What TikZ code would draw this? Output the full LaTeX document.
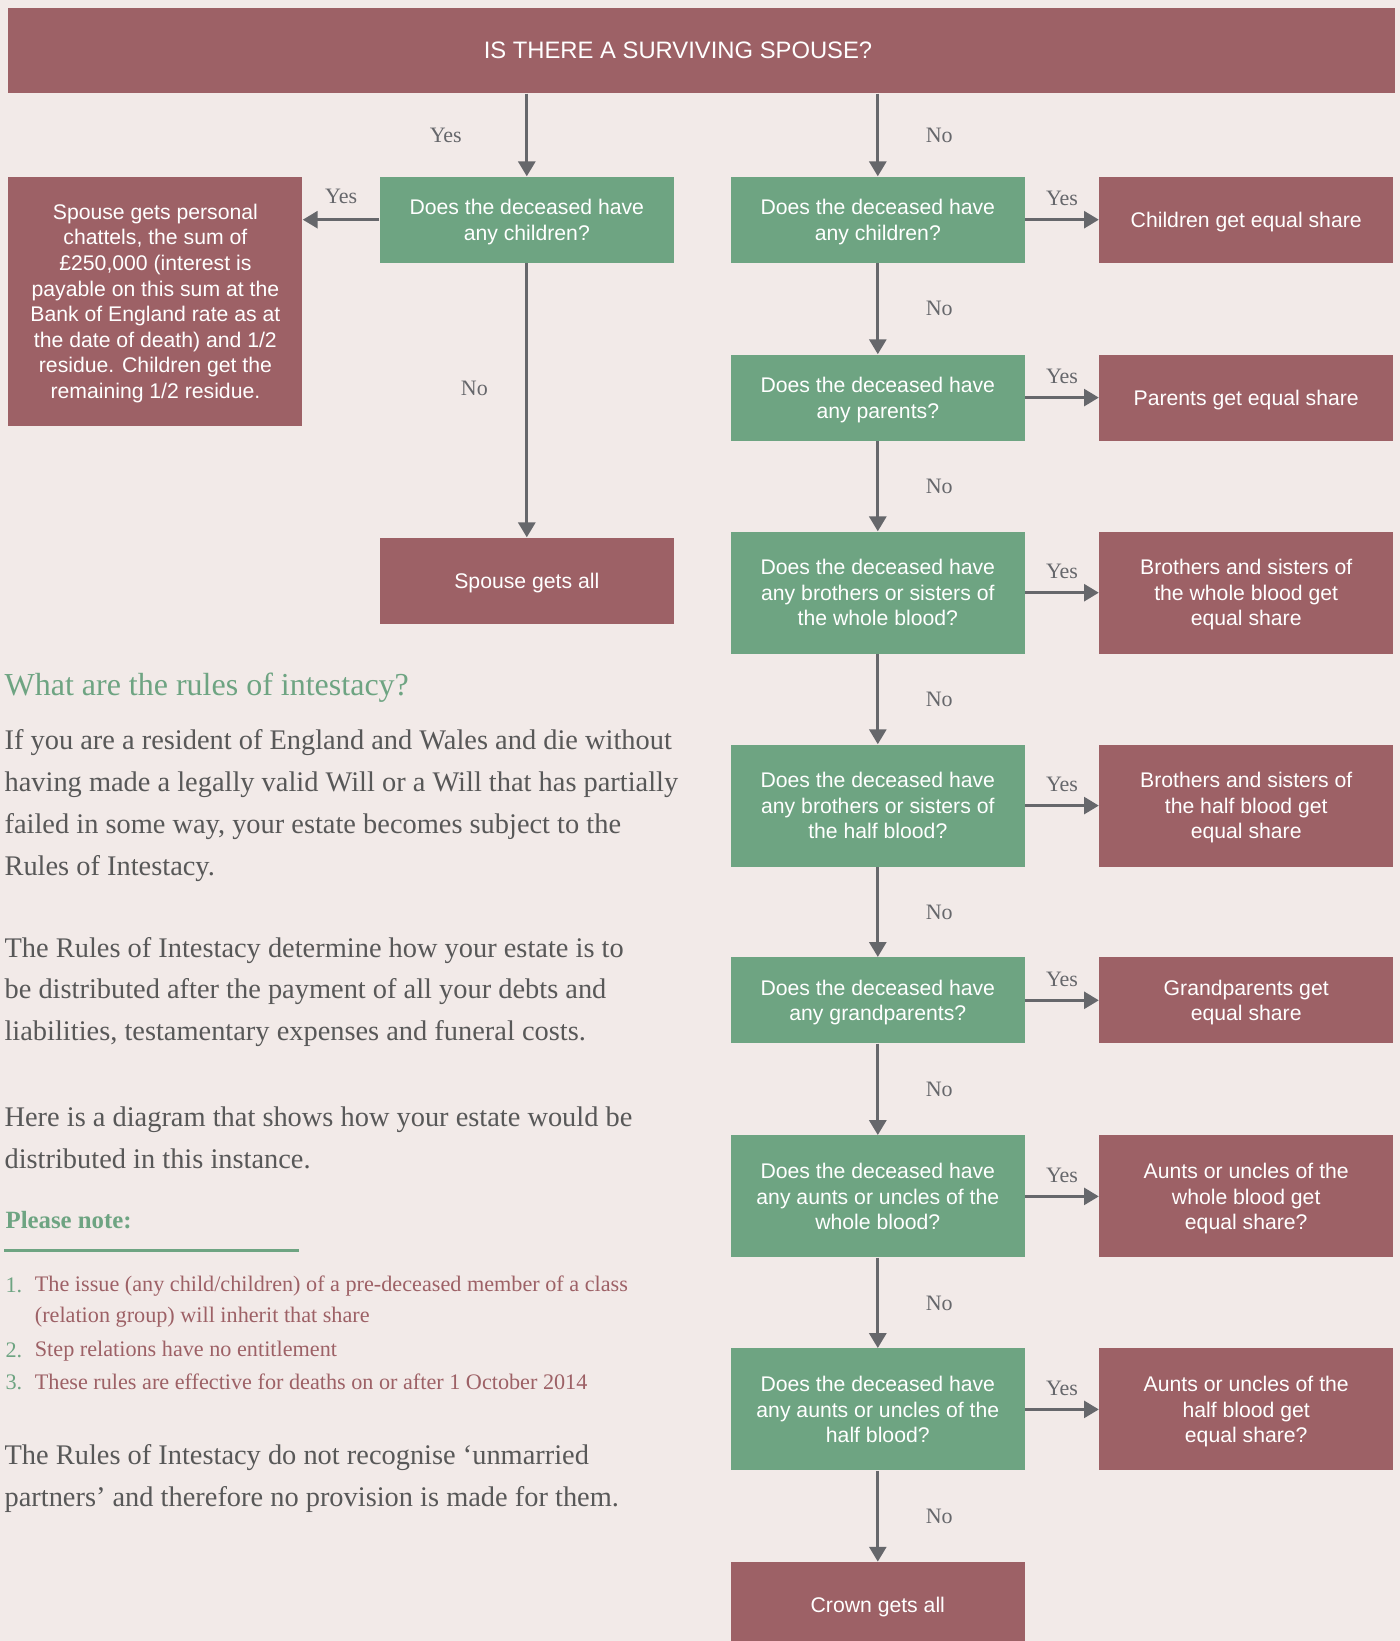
\documentclass[tikz,border=0pt]{standalone}
\usepackage{fontspec}
\setmainfont{Liberation Serif}
\setsansfont{Liberation Sans}
\usetikzlibrary{arrows.meta,positioning}
\definecolor{wine}{HTML}{9D6166}
\definecolor{sage}{HTML}{6EA482}
\definecolor{paper}{HTML}{F2EAE8}
\definecolor{arrowgray}{HTML}{66676B}
\definecolor{bodygray}{HTML}{585858}
\newcommand{\flowfont}{\sffamily\fontsize{10.6}{12.8}\selectfont}
\newcommand{\parafont}{\fontsize{14.2}{20.9}\selectfont}
\newcommand{\itemsfont}{\fontsize{11.1}{15.7}\selectfont}
\newcommand{\ynfont}{\fontsize{11}{13}\selectfont}
\tikzset{
  qbox/.style={fill=sage,text=white,font=\flowfont,align=center,inner sep=0pt,
    minimum width=147pt,minimum height=43pt,text depth=-3.5pt},
  abox/.style={qbox,fill=wine},
  flow/.style={draw=arrowgray,line width=1.35pt,-{Triangle[length=7.4pt,width=8.5pt]}},
  yn/.style={font=\ynfont,text=arrowgray},
  para/.style={font=\parafont,text=bodygray,align=left,anchor=west,inner sep=0pt},
  note/.style={font=\itemsfont,text=wine,align=left,anchor=west,inner sep=0pt},
  num/.style={font=\itemsfont,text=sage,anchor=west,inner sep=0pt}
}
\begin{document}
\begin{tikzpicture}[x=0.5pt,y=-0.5pt]
\fill[paper](0,0)rectangle(1400,1641);
\useasboundingbox(0,0)rectangle(1400,1641);
\clip(0,0)rectangle(1400,1641);
%top question
\node[fill=wine,minimum width=693.2pt,minimum height=42.4pt,inner sep=0pt](top)at(701.5,50.8){};
\node[text=white,font=\sffamily\fontsize{11.9}{14}\selectfont](toptext)at(678,50.2){IS THERE A SURVIVING SPOUSE?};
%spouse branch
\node[qbox](q0)at(526.8,219.7){Does the deceased have\\any children?};
\node[abox,minimum height=124.5pt](a0)at(155.4,301.3){Spouse gets personal\\chattels, the sum of\\£250,000 (interest is\\payable on this sum at the\\Bank of England rate as at\\the date of death) and 1/2\\residue. Children get the\\remaining 1/2 residue.};
\node[abox](spall)at(526.8,580.7){Spouse gets all};
%no spouse branch
\node[qbox](q1)at(877.8,219.7){Does the deceased have\\any children?};
\node[qbox](q2)at(877.8,397.6){Does the deceased have\\any parents?};
\node[qbox,minimum height=61pt](q3)at(877.8,592.7){Does the deceased have\\any brothers or sisters of\\the whole blood?};
\node[qbox,minimum height=61pt](q4)at(877.8,805.6){Does the deceased have\\any brothers or sisters of\\the half blood?};
\node[qbox](q5)at(877.8,1000.3){Does the deceased have\\any grandparents?};
\node[qbox,minimum height=61pt](q6)at(877.8,1196.4){Does the deceased have\\any aunts or uncles of the\\whole blood?};
\node[qbox,minimum height=61pt](q7)at(877.8,1409.4){Does the deceased have\\any aunts or uncles of the\\half blood?};
\node[abox](crown)at(877.8,1605){Crown gets all};
%answers
\node[abox](a1)at(1246.2,219.7){Children get equal share};
\node[abox](a2)at(1246.2,397.6){Parents get equal share};
\node[abox,minimum height=61pt](a3)at(1246.2,592.7){Brothers and sisters of\\the whole blood get\\equal share};
\node[abox,minimum height=61pt](a4)at(1246.2,805.6){Brothers and sisters of\\the half blood get\\equal share};
\node[abox](a5)at(1246.2,1000.3){Grandparents get\\equal share};
\node[abox,minimum height=61pt](a6)at(1246.2,1196.4){Aunts or uncles of the\\whole blood get\\equal share?};
\node[abox,minimum height=61pt](a7)at(1246.2,1409.4){Aunts or uncles of the\\half blood get\\equal share?};
%arrows
\draw[flow](top.south-|q0)--node[yn,left=28.5pt]{Yes}(q0);
\draw[flow](top.south-|q1)--node[yn,right=20pt]{No}(q1);
\draw[flow](q0.west)--node[yn,above=4pt]{Yes}(q0.west-|a0.east);
\draw[flow](q0)--node[yn,left=15.5pt,yshift=6pt]{No}(spall);
\foreach \i/\j in {1/2,2/3,3/4,4/5,5/6,6/7}{
\draw[flow](q\i)--node[yn,right=20pt]{No}(q\j);
}
\draw[flow](q7)--node[yn,right=20pt]{No}(crown);
\foreach \i in {1,...,7}{
\draw[flow](q\i)--node[yn,above=3pt]{Yes}(a\i);
}
%text column
\node[font=\fontsize{16}{19}\selectfont,text=sage,anchor=west,inner sep=0pt](head)at(4.2,688){What are the rules of intestacy?};
\node[para](p1)at(4.2,805.5){If you are a resident of England and Wales and die without\\having made a legally valid Will or a Will that has partially\\failed in some way, your estate becomes subject to the\\Rules of Intestacy.};
\node[para](p2)at(4.2,992){The Rules of Intestacy determine how your estate is to\\be distributed after the payment of all your debts and\\liabilities, testamentary expenses and funeral costs.};
\node[para](p3)at(4.2,1138){Here is a diagram that shows how your estate would be\\distributed in this instance.};
\node[font=\bfseries\fontsize{12.4}{15}\selectfont,text=sage,anchor=west,inner sep=0pt](pn)at(5.2,1220){Please note:};
\draw[sage,line width=1.5pt](4.2,1250.3)--(299.2,1250.3);
\node[num](n1)at(5.2,1285.8){1.};
\node[num](n2)at(5.2,1350.7){2.};
\node[num](n3)at(5.2,1382.1){3.};
\node[note](t1)at(34.5,1301.5){The issue (any child/children) of a pre-deceased member of a class\\(relation group) will inherit that share};
\node[note](t2)at(34.5,1350.7){Step relations have no entitlement};
\node[note](t3)at(34.5,1382.1){These rules are effective for deaths on or after 1 October 2014};
\node[para](p4)at(4.2,1478.3){The Rules of Intestacy do not recognise ‘unmarried\\partners’ and therefore no provision is made for them.};
\end{tikzpicture}
\end{document}
